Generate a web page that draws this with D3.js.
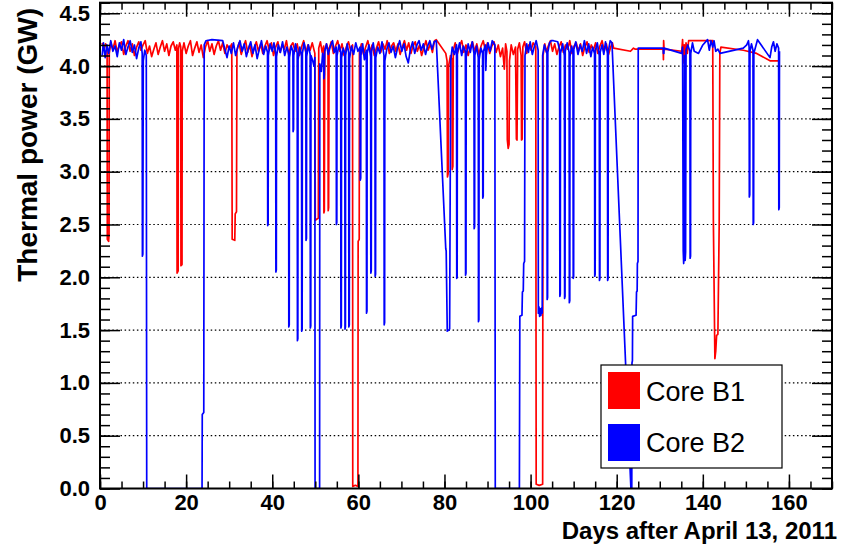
<!DOCTYPE html>
<html>
<head>
<meta charset="utf-8">
<script src="https://cdn.jsdelivr.net/npm/d3@7"></script>
<style>
body { margin: 0; background: #fff; }
svg text { font-family: "Liberation Sans", Arial, Helvetica, sans-serif; }
</style>
</head>
<body>
<div id="chart"></div>
<script>
// days after April 13 2011, thermal power in GW
var coreB1 = [
[0.5,4.22],[0.9,4.15],[1.3,4.21],[1.65,4.18],[1.7,2.36],[2.0,2.34],[2.1,2.40],[2.15,4.12],[2.5,4.22],[3.0,4.16],[3.5,4.24],[4.0,4.13],[4.5,4.20],[5.0,4.23],[5.5,4.11],[6.0,4.19],[6.5,4.24],[7.0,4.14],[7.5,4.21],[8.0,4.10],[8.5,4.18],[9.0,4.23],[9.5,4.15],[10.0,4.20],[10.5,4.24],[11.0,4.12],[11.5,4.19],[12.0,4.09],[12.5,4.16],[13.0,4.22],[13.5,4.11],[14.0,4.18],[14.5,4.24],[15.0,4.14],[15.5,4.21],[16.0,4.10],[16.5,4.19],[17.0,4.23],[17.5,4.15],[17.85,4.20],[17.9,2.04],[18.15,2.06],[18.2,4.16],[18.5,4.22],[18.75,4.18],[18.8,2.11],[19.05,2.12],[19.1,4.14],[19.5,4.22],[20.0,4.12],[20.5,4.19],[21.0,4.24],[21.5,4.10],[22.0,4.17],[22.5,4.23],[23.0,4.13],[23.5,4.20],[24.0,4.08],[24.5,4.18],[25.0,4.24],[25.5,4.14],[26.0,4.21],[26.5,4.11],[27.0,4.19],[27.5,4.24],[28.0,4.15],[28.5,4.22],[29.0,4.12],[29.5,4.20],[30.0,4.16],[30.6,4.21],[30.7,2.36],[31.3,2.35],[31.4,2.60],[31.7,2.62],[31.8,4.15],[32.3,4.22],[32.8,4.11],[33.3,4.18],[33.8,4.24],[34.3,4.13],[34.8,4.20],[35.3,4.09],[35.8,4.17],[36.3,4.23],[36.8,4.14],[37.3,4.21],[37.8,4.12],[38.3,4.19],[38.8,4.24],[39.3,4.15],[39.8,4.22],[40.3,4.10],[40.8,4.18],[41.3,4.23],[41.8,4.13],[42.3,4.20],[42.8,4.16],[43.3,4.24],[43.8,4.11],[44.3,4.19],[44.8,4.22],[45.3,4.14],[45.8,4.21],[46.3,4.10],[46.8,4.18],[47.3,4.24],[47.8,4.13],[48.3,4.20],[48.8,4.15],[49.3,4.22],[49.9,4.12],[50.0,2.54],[50.7,2.56],[50.8,4.17],[51.2,4.23],[51.6,4.13],[51.95,4.19],[52.0,2.61],[52.1,2.63],[52.2,4.14],[52.6,4.21],[52.95,4.16],[53.0,2.63],[53.1,2.66],[53.2,4.16],[53.7,4.23],[54.2,4.12],[54.7,4.19],[55.2,4.24],[55.7,4.14],[56.2,4.21],[56.7,4.10],[57.2,4.18],[57.7,4.23],[58.2,4.15],[58.65,4.20],[58.7,0.02],[59.3,0.03],[59.9,0.02],[59.95,2.34],[60.2,2.36],[60.25,4.13],[60.7,4.21],[61.2,4.11],[61.7,4.18],[62.2,4.24],[62.7,4.14],[63.2,4.20],[63.7,4.10],[64.2,4.17],[64.7,4.23],[65.2,4.13],[65.7,4.21],[66.2,4.16],[66.7,4.24],[67.2,4.12],[67.7,4.19],[68.2,4.22],[68.7,4.14],[69.2,4.21],[69.7,4.11],[70.2,4.18],[70.7,4.24],[71.2,4.15],[71.7,4.22],[72.2,4.12],[72.7,4.19],[73.2,4.23],[73.7,4.14],[74.2,4.20],[74.7,4.10],[75.2,4.17],[75.7,4.24],[76.2,4.15],[76.7,4.21],[77.2,4.13],[77.7,4.24],[78.1,4.25],[80.3,4.12],[80.6,4.05],[80.7,2.95],[80.85,2.98],[80.95,4.00],[81.4,4.10],[81.75,4.06],[81.8,3.02],[81.95,3.05],[82.05,4.15],[82.5,4.22],[83.0,4.12],[83.5,4.19],[84.0,4.24],[84.5,4.13],[85.0,4.20],[85.5,4.10],[86.0,4.18],[86.5,4.23],[87.0,4.14],[87.5,4.21],[88.0,4.11],[88.5,4.19],[89.0,4.24],[89.5,4.15],[90.0,4.22],[90.5,4.12],[91.0,4.19],[91.5,4.23],[92.0,4.13],[92.5,4.20],[93.0,4.09],[93.5,4.17],[93.9,3.97],[94.2,4.21],[94.5,4.14],[94.6,3.30],[94.8,3.22],[95.0,3.26],[95.1,4.05],[95.5,4.20],[96.0,4.11],[96.5,4.18],[96.7,3.31],[96.85,3.30],[97.0,4.16],[97.4,4.22],[97.8,4.10],[97.9,3.30],[98.05,3.31],[98.2,4.18],[98.6,4.23],[99.1,4.12],[99.6,4.20],[100.1,4.15],[100.6,4.22],[101.2,4.18],[101.3,0.04],[102.0,0.03],[102.8,0.04],[102.9,4.10],[103.3,4.21],[103.7,4.13],[104.1,4.19],[104.6,4.24],[105.1,4.14],[105.6,4.21],[106.1,4.11],[106.6,4.18],[107.1,4.23],[107.6,4.13],[108.1,4.20],[108.6,4.16],[109.1,4.24],[109.6,4.12],[110.1,4.19],[110.6,4.22],[111.1,4.14],[111.6,4.21],[112.1,4.10],[112.6,4.18],[113.1,4.23],[113.6,4.13],[114.1,4.20],[114.6,4.15],[115.1,4.22],[115.6,4.12],[116.1,4.19],[116.6,4.24],[117.1,4.14],[117.6,4.21],[118.1,4.11],[118.6,4.18],[119.0,4.22],[119.3,4.17],[123.2,4.14],[123.9,4.17],[124.3,4.16],[130.8,4.16],[130.85,4.06],[130.9,4.24],[131.0,4.16],[135.1,4.14],[135.3,4.25],[135.5,4.03],[135.7,4.20],[135.9,4.06],[136.1,4.22],[136.4,4.12],[136.7,4.24],[142.3,4.24],[142.45,2.54],[142.8,1.23],[143.0,1.30],[143.2,1.45],[143.5,1.46],[143.8,2.50],[143.95,4.12],[144.2,4.18],[149.4,4.15],[152.5,4.12],[155.6,4.05],[157.9,4.05]
];

var coreB2 = [
[0.5,4.10],[0.8,4.22],[1.2,4.08],[1.6,4.20],[2.0,4.12],[2.5,4.24],[3.0,4.14],[3.5,4.19],[4.0,4.09],[4.5,4.22],[5.0,4.15],[5.5,4.25],[6.0,4.11],[6.5,4.18],[7.0,4.24],[7.5,4.13],[8.0,4.20],[8.5,4.07],[9.0,4.17],[9.5,4.23],[9.8,4.12],[9.85,2.20],[9.95,2.22],[10.05,4.05],[10.4,4.15],[10.75,4.10],[10.85,0.0],[23.7,0.0],[23.75,0.70],[24.1,0.72],[24.2,4.20],[24.6,4.24],[26.0,4.25],[28.5,4.24],[29.0,4.16],[29.5,4.08],[30.0,4.19],[30.5,4.12],[31.0,4.22],[31.5,4.10],[32.0,4.18],[32.5,4.24],[33.0,4.14],[33.5,4.21],[34.0,4.09],[34.5,4.17],[35.0,4.23],[35.5,4.12],[36.0,4.20],[36.5,4.07],[37.0,4.16],[37.5,4.24],[38.0,4.11],[38.5,4.19],[38.9,4.13],[38.95,2.49],[39.05,2.51],[39.1,4.10],[39.5,4.21],[40.0,4.14],[40.4,4.22],[40.8,4.12],[40.85,2.05],[40.95,2.07],[41.0,4.09],[41.4,4.20],[41.9,4.13],[42.4,4.23],[42.9,4.10],[43.4,4.18],[43.8,4.12],[43.85,1.53],[43.95,1.55],[44.0,4.08],[44.4,4.19],[44.8,4.14],[44.85,3.38],[44.95,3.40],[45.0,4.10],[45.4,4.21],[45.8,4.12],[45.85,1.40],[45.95,1.42],[46.0,4.06],[46.4,4.18],[46.8,4.10],[46.85,1.49],[46.95,1.51],[47.0,4.12],[47.4,4.22],[47.8,4.14],[47.85,2.35],[47.95,2.37],[48.0,4.09],[48.4,4.20],[48.8,4.11],[48.85,1.52],[48.95,1.54],[49.0,4.10],[49.4,4.05],[49.7,4.00],[49.9,4.08],[49.95,0.0],[51.0,0.0],[51.05,4.02],[51.4,3.95],[51.7,4.12],[51.95,4.05],[52.0,3.88],[52.1,3.92],[52.2,4.14],[52.6,4.21],[53.0,4.11],[53.5,4.19],[54.0,4.24],[54.4,4.13],[54.85,4.18],[54.9,2.50],[55.0,2.52],[55.05,4.10],[55.5,4.20],[55.9,4.14],[55.95,1.52],[56.05,1.54],[56.1,4.08],[56.5,4.17],[56.85,4.12],[56.9,1.51],[57.0,1.53],[57.05,4.10],[57.4,4.21],[57.75,4.13],[57.8,1.53],[57.9,1.55],[57.95,4.07],[58.4,4.19],[58.9,4.11],[59.4,4.22],[59.9,4.14],[60.4,4.18],[60.45,2.92],[60.55,2.94],[60.6,4.10],[61.0,4.21],[61.4,4.06],[61.85,4.15],[61.9,1.66],[62.0,1.68],[62.05,4.12],[62.45,4.20],[62.85,4.09],[62.9,2.04],[63.0,2.06],[63.05,4.14],[63.45,4.22],[63.85,4.11],[63.9,2.01],[64.0,2.03],[64.05,4.08],[64.5,4.18],[65.0,4.12],[65.5,4.23],[65.95,4.10],[66.0,1.55],[66.1,1.57],[66.15,4.05],[66.6,4.16],[67.1,4.22],[67.6,4.13],[68.1,4.19],[68.6,4.08],[69.1,4.17],[69.6,4.24],[70.1,4.14],[70.6,4.21],[71.1,4.09],[71.6,4.03],[72.1,4.16],[72.6,4.23],[73.1,4.12],[73.6,4.20],[74.1,4.24],[74.6,4.15],[75.1,4.21],[75.6,4.11],[76.1,4.19],[76.6,4.24],[77.1,4.16],[77.6,4.23],[78.1,4.24],[80.3,2.27],[80.4,2.25],[80.65,1.49],[81.0,1.50],[81.2,1.51],[81.45,4.05],[81.8,4.18],[82.3,4.11],[82.8,4.20],[82.85,1.99],[82.95,2.01],[83.0,4.13],[83.5,4.22],[84.0,4.10],[84.4,4.19],[84.85,4.14],[84.9,2.02],[85.0,2.04],[85.05,4.09],[85.5,4.21],[86.0,4.13],[86.45,4.23],[86.85,4.12],[86.9,2.46],[87.0,2.48],[87.05,4.10],[87.45,4.19],[87.85,4.08],[87.9,1.58],[88.0,1.60],[88.05,4.06],[88.45,4.17],[88.85,4.12],[88.9,2.75],[89.0,2.77],[89.05,4.14],[89.5,4.20],[89.6,3.96],[89.7,4.10],[90.1,4.22],[90.6,4.14],[91.1,4.24],[91.7,4.20],[91.8,0.0],[97.4,0.0],[97.5,1.63],[98.0,1.64],[98.1,1.86],[98.3,1.87],[98.4,2.13],[98.6,2.15],[98.7,4.10],[99.1,4.21],[99.5,4.13],[99.9,4.23],[100.4,4.11],[100.9,4.19],[101.3,4.24],[101.75,4.15],[101.8,1.66],[101.95,1.72],[102.1,1.63],[102.25,1.70],[102.4,1.64],[102.55,1.71],[102.7,1.66],[102.8,4.10],[103.2,4.20],[103.8,4.12],[103.85,1.79],[103.95,1.81],[104.0,4.13],[104.4,4.22],[104.8,4.24],[105.3,4.24],[106.3,4.23],[106.75,4.15],[106.8,1.82],[106.9,1.84],[106.95,4.12],[107.45,4.21],[107.85,4.10],[107.9,1.80],[108.0,1.82],[108.05,4.14],[108.5,4.22],[108.95,4.13],[109.0,1.76],[109.1,1.78],[109.15,4.09],[109.55,4.19],[109.85,4.12],[109.9,1.99],[110.0,2.01],[110.05,4.16],[110.5,4.23],[111.0,4.11],[111.5,4.20],[112.0,4.14],[112.5,4.24],[113.0,4.12],[113.5,4.21],[114.0,4.09],[114.4,4.18],[114.85,4.12],[114.9,2.01],[115.0,2.03],[115.05,4.15],[115.5,4.22],[115.95,4.10],[116.0,1.97],[116.1,1.99],[116.15,4.13],[116.6,4.20],[117.0,4.11],[117.4,4.23],[117.85,4.12],[117.9,1.97],[118.0,1.99],[118.05,4.14],[118.5,4.24],[118.9,4.22],[123.3,0.0],[123.5,0.0],[123.55,1.19],[123.65,1.21],[123.7,1.63],[124.5,1.64],[124.6,1.86],[124.75,1.87],[124.8,2.13],[124.95,2.15],[125.0,4.17],[130.8,4.17],[130.85,4.12],[130.95,4.12],[131.0,4.17],[135.1,4.12],[135.3,4.18],[135.45,2.25],[135.55,2.13],[135.65,2.22],[135.75,4.10],[135.8,2.30],[135.9,2.16],[136.0,2.24],[136.1,4.15],[136.5,4.20],[137.0,4.14],[137.05,2.18],[137.15,2.20],[137.2,4.12],[137.6,4.22],[138.0,4.14],[139.0,4.12],[140.0,4.20],[141.1,4.25],[141.5,4.15],[141.9,4.24],[142.3,4.18],[142.6,4.24],[143.0,4.14],[143.5,4.16],[144.0,4.12],[149.4,4.17],[150.2,4.20],[150.6,4.24],[150.75,4.18],[150.8,2.76],[150.9,2.78],[150.95,4.14],[151.3,4.21],[151.65,4.15],[151.7,2.50],[151.8,2.52],[151.85,4.12],[152.7,4.25],[155.6,4.08],[156.0,4.18],[156.4,4.23],[156.8,4.14],[157.2,4.21],[157.6,4.17],[157.65,2.64],[157.75,2.66],[157.8,4.14]
];

var xMajorTicks = [0, 20, 40, 60, 80, 100, 120, 140, 160];
var yMajorTicks = [0, 0.5, 1.0, 1.5, 2.0, 2.5, 3.0, 3.5, 4.0, 4.5];
var seriesNames = ["Core B1", "Core B2"];
var seriesColors = ["#ff0000", "#0000ff"];

function init() {
    var w = 843;
    var h = 551;
    var padL = 100, padR = 832, padT = 2.7, padB = 488.5;

    var svg = d3.select("#chart")
                .append("svg")
                .attr("width", w)
                .attr("height", h);

    var x = d3.scaleLinear().domain([0, 170]).range([padL, padR]);
    var y = d3.scaleLinear().domain([0, 4.6]).range([padB, padT]);

    // dotted horizontal grid
    svg.append("g")
        .selectAll("line")
        .data(yMajorTicks.filter(function(d) { return d > 0; }))
        .enter()
        .append("line")
        .attr("x1", padL)
        .attr("x2", padR)
        .attr("y1", function(d) { return y(d); })
        .attr("y2", function(d) { return y(d); })
        .attr("stroke", "#000")
        .attr("stroke-width", 1.2)
        .attr("stroke-dasharray", "1.5,2.6");

    svg.append("clipPath")
        .attr("id", "plotArea")
        .append("rect")
        .attr("x", padL)
        .attr("y", padT)
        .attr("width", padR - padL)
        .attr("height", padB - padT);

    var line = d3.line()
        .x(function(d) { return x(d[0]); })
        .y(function(d) { return y(d[1]); });

    [coreB1, coreB2].forEach(function(series, i) {
        svg.append("path")
            .datum(series)
            .attr("d", line)
            .attr("fill", "none")
            .attr("stroke", seriesColors[i])
            .attr("stroke-width", 1.7)
            .attr("stroke-linejoin", "round")
            .attr("clip-path", "url(#plotArea)");
    });

    // axes: ticks drawn inside the frame, ROOT style
    var xMinor = d3.range(0, 171, 5);
    var yMinor = d3.range(0, 47).map(function(i) { return i / 10; });

    function styleAxis(g) {
        g.select(".domain").remove();
        g.selectAll("line").attr("stroke", "#000").attr("stroke-width", 1.5);
        g.selectAll("text")
            .attr("fill", "#000")
            .style("font-size", "22px")
            .style("font-weight", "bold")
            .style("font-family", "'Liberation Sans', Arial, Helvetica, sans-serif");
    }

    svg.append("g").attr("transform", "translate(0," + padB + ")")
        .call(d3.axisBottom(x).tickValues(xMinor).tickSize(-7).tickFormat(""))
        .call(styleAxis);
    svg.append("g").attr("transform", "translate(0," + padB + ")")
        .call(d3.axisBottom(x).tickValues(xMajorTicks).tickSize(-14).tickPadding(6).tickFormat(d3.format("d")))
        .call(styleAxis);
    svg.append("g").attr("transform", "translate(0," + padT + ")")
        .call(d3.axisTop(x).tickValues(xMinor).tickSize(-7).tickFormat(""))
        .call(styleAxis);
    svg.append("g").attr("transform", "translate(0," + padT + ")")
        .call(d3.axisTop(x).tickValues(xMajorTicks).tickSize(-14).tickFormat(""))
        .call(styleAxis);

    svg.append("g").attr("transform", "translate(" + padL + ",0)")
        .call(d3.axisLeft(y).tickValues(yMinor).tickSize(-10).tickFormat(""))
        .call(styleAxis);
    svg.append("g").attr("transform", "translate(" + padL + ",0)")
        .call(d3.axisLeft(y).tickValues(yMajorTicks).tickSize(-20).tickPadding(10).tickFormat(d3.format(".1f")))
        .call(styleAxis);
    svg.append("g").attr("transform", "translate(" + padR + ",0)")
        .call(d3.axisRight(y).tickValues(yMinor).tickSize(-10).tickFormat(""))
        .call(styleAxis);
    svg.append("g").attr("transform", "translate(" + padR + ",0)")
        .call(d3.axisRight(y).tickValues(yMajorTicks).tickSize(-20).tickFormat(""))
        .call(styleAxis);

    // frame
    svg.append("rect")
        .attr("x", padL)
        .attr("y", padT)
        .attr("width", padR - padL)
        .attr("height", padB - padT)
        .attr("fill", "none")
        .attr("stroke", "#000")
        .attr("stroke-width", 2);

    // axis titles
    svg.append("text")
        .attr("x", 837)
        .attr("y", 539)
        .attr("text-anchor", "end")
        .style("font-size", "24px")
        .style("font-weight", "bold")
        .text("Days after April 13, 2011");

    svg.append("text")
        .attr("transform", "translate(37,8) rotate(-90)")
        .attr("text-anchor", "end")
        .style("font-size", "28px")
        .style("font-weight", "bold")
        .text("Thermal power (GW)");

    // legend
    var legend = svg.append("g");
    legend.append("rect")
        .attr("x", 601)
        .attr("y", 365)
        .attr("width", 181)
        .attr("height", 103)
        .attr("fill", "#fff")
        .attr("stroke", "#000")
        .attr("stroke-width", 1.2);

    legend.selectAll("rect.key")
        .data(seriesNames)
        .enter()
        .append("rect")
        .attr("class", "key")
        .attr("x", 608)
        .attr("y", function(d, i) { return 372 + i * 52; })
        .attr("width", 32)
        .attr("height", 37)
        .attr("fill", function(d, i) { return seriesColors[i]; });

    legend.selectAll("text")
        .data(seriesNames)
        .enter()
        .append("text")
        .attr("x", 646)
        .attr("y", function(d, i) { return 401 + i * 51; })
        .style("font-size", "27px")
        .attr("fill", "#000")
        .text(function(d) { return d; });
}

init();
</script>
</body>
</html>
